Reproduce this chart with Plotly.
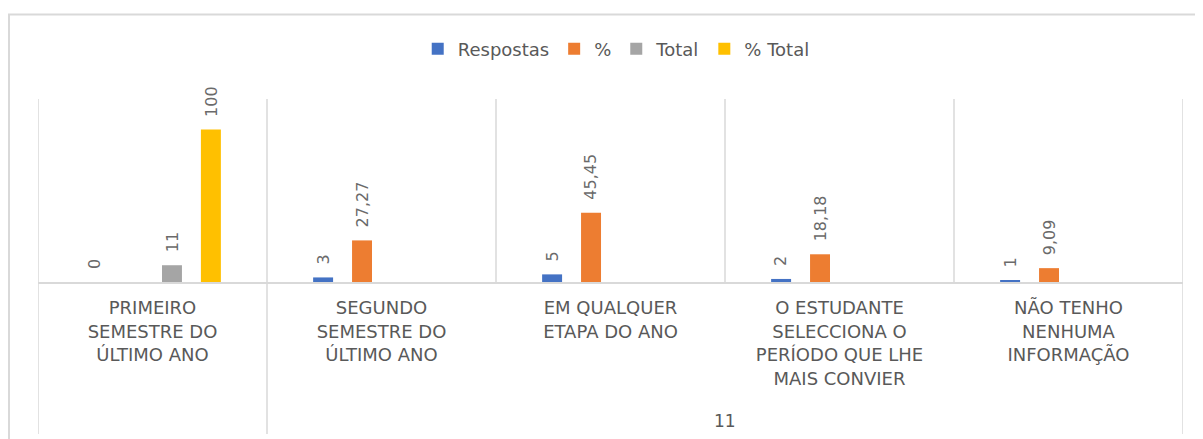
import plotly.graph_objects as go

# ---------------- data ----------------
categories = [
    "PRIMEIRO<br>SEMESTRE DO<br>ÚLTIMO ANO",
    "SEGUNDO<br>SEMESTRE DO<br>ÚLTIMO ANO",
    "EM QUALQUER<br>ETAPA DO ANO",
    "O ESTUDANTE<br>SELECCIONA O<br>PERÍODO QUE LHE<br>MAIS CONVIER",
    "NÃO TENHO<br>NENHUMA<br>INFORMAÇÃO",
]
outer_group = ["", "11", "11", "11", "11"]

series_names = ["Respostas", "%", "Total", "% Total"]
respostas = [0, 3, 5, 2, 1]
pct = [None, 27.27, 45.45, 18.18, 9.09]
total = [11, None, None, None, None]
pct_total = [100, None, None, None, None]
series_values = [respostas, pct, total, pct_total]
series_colors = ["#4472C4", "#ED7D31", "#A5A5A5", "#FFC000"]

# ---------------- layout constants ----------------
# page body adds an 8px offset; figure coordinates below are page - 8
OFF = 8
W, H = 1203, 439
ML, MR, MT = 38 - OFF, 28, 99 - OFF
BASE = 282 - OFF            # baseline y in figure px
MB = H - BASE
plot_h = BASE - MT
plot_w = W - ML - MR
BARGAP = 0.32
BARGROUPGAP = 0.487
TXT = "#595959"
GRID = "#d9d9d9"
FONT = "DejaVu Sans"


def fmt(v):
    return f"{v:g}".replace(".", ",")


def py(page_y):
    """page pixel y -> paper coordinate"""
    return (BASE - (page_y - OFF)) / plot_h


fig = go.Figure()
idx = list(range(len(categories)))
for name, vals, col in zip(series_names, series_values, series_colors):
    fig.add_trace(go.Bar(
        name=name, x=idx, y=vals, marker_color=col, marker_line_width=0,
    ))

# data labels (rotated), placed above each bar through the axis scale
n_series = len(series_names)
slot = (1 - BARGAP) / n_series
for j, vals in enumerate(series_values):
    off = (j - (n_series - 1) / 2) * slot
    for i, v in enumerate(vals):
        if v is None:
            continue
        fig.add_annotation(
            x=i + off, y=v, xref="x", yref="y", text=fmt(v), showarrow=False,
            textangle=-90, xanchor="center", yanchor="bottom", yshift=11,
            font=dict(family=FONT, size=16, color="#6a6a6a"),
        )

# outer-level category labels and dividers
groups = []
for i, g in enumerate(outer_group):
    if groups and groups[-1][0] == g:
        groups[-1][2] = i
    else:
        groups.append([g, i, i])

bounds = set()
for g, a, b in groups:
    bounds.add(a - 0.5)
    bounds.add(b + 0.5)
    if g:
        fig.add_annotation(
            x=(a + b) / 2, y=py(421), xref="x", yref="paper",
            text=g, showarrow=False, yanchor="middle",
            font=dict(family=FONT, size=17, color=TXT),
        )
for xb in sorted(bounds):
    fig.add_shape(type="line", xref="x", yref="paper", x0=xb, x1=xb,
                  y0=0, y1=py(434), line=dict(color=GRID, width=1.5))

# vertical gridlines between categories (above axis)
for k in range(len(categories) + 1):
    fig.add_shape(type="line", xref="x", yref="paper", x0=k - 0.5, x1=k - 0.5,
                  y0=0, y1=1, line=dict(color=GRID, width=1.5), layer="below")

# chart frame
fig.add_shape(type="rect", xref="paper", yref="paper",
              x0=(9 - OFF - ML) / plot_w, x1=1.2,
              y0=-1.5, y1=py(14.5),
              line=dict(color=GRID, width=2))

fig.update_layout(
    width=W, height=H,
    margin=dict(l=ML, r=MR, t=MT, b=MB, autoexpand=False),
    paper_bgcolor="white", plot_bgcolor="white",
    barmode="group", bargap=BARGAP, bargroupgap=BARGROUPGAP,
    font=dict(family=FONT, color=TXT),
    showlegend=True,
    legend=dict(orientation="h", x=0.505, xanchor="center",
                y=py(49), yanchor="middle",
                font=dict(family=FONT, size=18, color=TXT),
                itemwidth=30, bgcolor="rgba(0,0,0,0)"),
    xaxis=dict(
        type="linear", range=[-0.5, len(categories) - 0.5],
        tickmode="array", tickvals=idx, ticktext=categories,
        showgrid=False, zeroline=False,
        showline=True, linecolor=GRID, linewidth=1.5,
        ticks="", ticklabelstandoff=9,
        tickfont=dict(family=FONT, size=18, color=TXT),
    ),
    yaxis=dict(range=[0, 120], visible=False, showgrid=False, zeroline=False),
)

fig.write_html("out.html")
